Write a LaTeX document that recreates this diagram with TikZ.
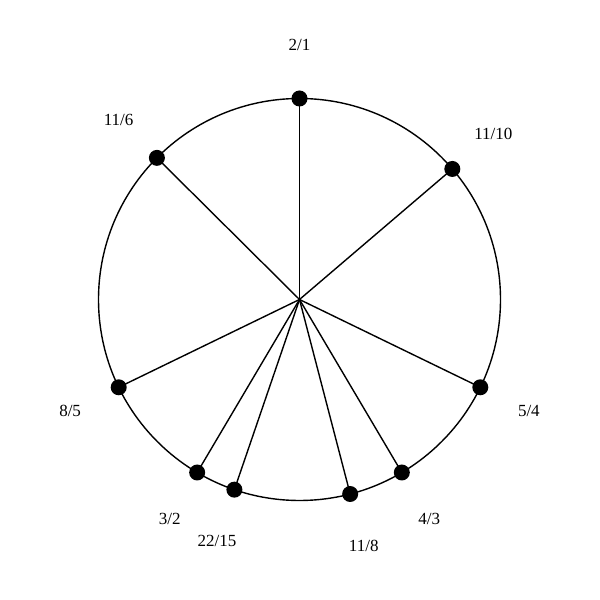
\documentclass[tikz,border=0pt]{standalone}
\usepackage{fontspec}
\setmainfont{Liberation Serif}
\usetikzlibrary{calc}
\begin{document}
\begin{tikzpicture}[x=1pt,y=1pt,
  spoke/.style={line width=1.4pt},
  dot/.style={circle,fill=black,inner sep=0pt,minimum size=16pt},
  lbl/.style={font=\fontsize{17}{20}\selectfont}]
\useasboundingbox (0,0) rectangle (600,600);
\coordinate (c) at (299.5,300.5);
\draw[line width=1.4pt] (c) circle (201);
\foreach \n/\t/\a in {a/2\slash1/0, b/11\slash10/49.5, c5/5\slash4/115.9, d/4\slash3/149.4, e/11\slash8/165.4, f/22\slash15/198.9, g/3\slash2/210.6, h/8\slash5/244.1, i/11\slash6/314.8}{
  \node[dot] (p\n) at ($(c)+({90-\a}:201)$) {};
  \draw[spoke] (c) -- (p\n.center);
  \node[lbl] (l\n) at ($(c)+({90-\a}:255)$) {\t};
}
\end{tikzpicture}
\end{document}
